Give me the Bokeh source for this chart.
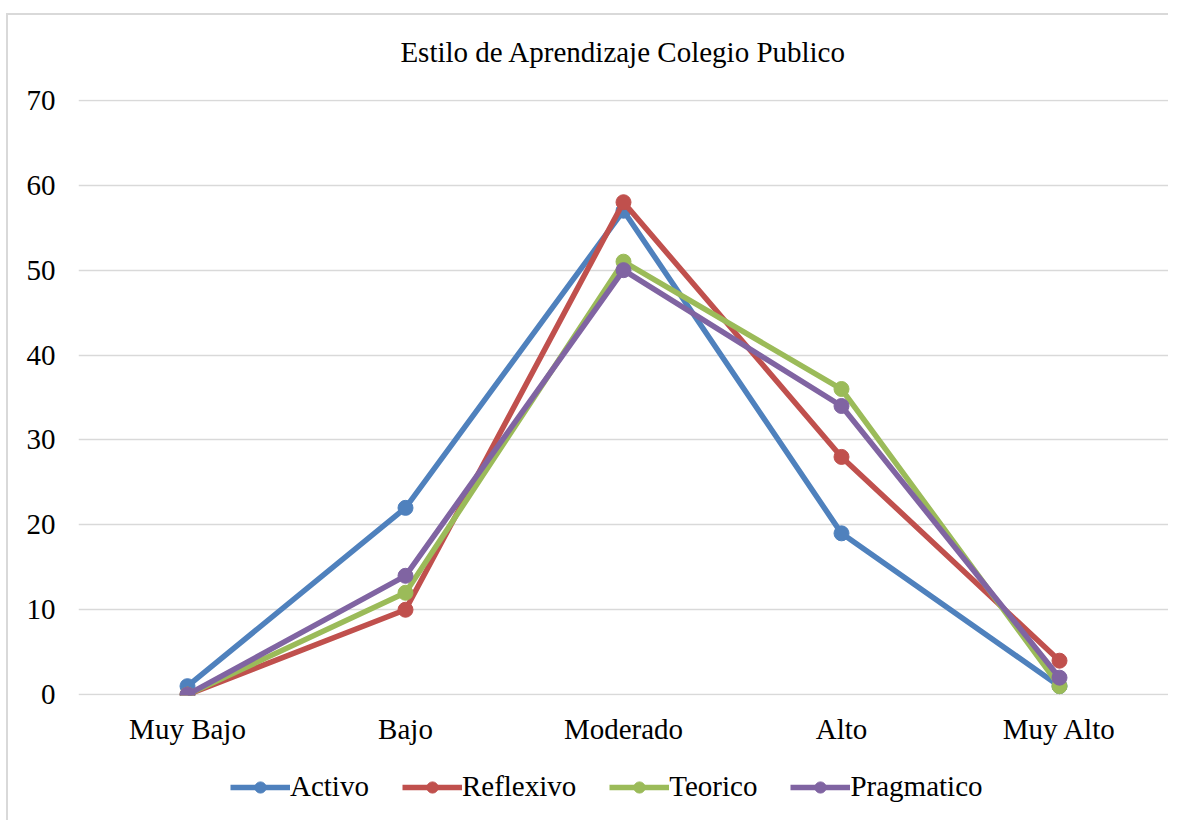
from bokeh.plotting import figure
from bokeh.models import ColumnDataSource, Legend, LegendItem, FixedTicker, Range1d
from bokeh.layouts import column
from bokeh.embed import file_html
from bokeh.resources import INLINE

categories = ["Muy Bajo", "Bajo", "Moderado", "Alto", "Muy Alto"]
activo = [1, 22, 57, 19, 1]
reflexivo = [0, 10, 58, 28, 4]
teorico = [0, 12, 51, 36, 1]
pragmatico = [0, 14, 50, 34, 2]
series_names = ["Activo", "Reflexivo", "Teorico", "Pragmatico"]
series_values = [activo, reflexivo, teorico, pragmatico]
colors = ["#4F81BD", "#C0504D", "#9BBB59", "#8064A2"]
y_ticks = [0, 10, 20, 30, 40, 50, 60, 70]

FONT = "Liberation Serif"
FS = "29px"
LW = 5.5
MS = 15

p = figure(x_range=categories,
           frame_width=1090, frame_height=596,
           min_border_left=78, min_border_top=99, min_border_right=0, min_border_bottom=65,
           output_backend="svg", toolbar_location=None,
           title="Estilo de Aprendizaje Colegio Publico")
p.x_range.range_padding = 0
p.y_range = Range1d(-0.1, 70.1)

p.title.align = "center"
p.title.text_font = FONT
p.title.text_font_size = FS
p.title.text_font_style = "normal"
p.title.text_color = "#000000"
p.title.standoff = 63

p.outline_line_color = None
p.background_fill_color = "white"
p.border_fill_alpha = 0

p.xgrid.grid_line_color = None
p.ygrid.grid_line_color = "#D9D9D9"
p.ygrid.grid_line_width = 1.5
p.yaxis.ticker = FixedTicker(ticks=y_ticks)

for ax in (p.xaxis, p.yaxis):
    ax.axis_line_color = None
    ax.major_tick_line_color = None
    ax.minor_tick_line_color = None
    ax.major_label_text_font = FONT
    ax.major_label_text_font_size = FS
    ax.major_label_text_color = "#000000"
p.yaxis.major_label_standoff = 17
p.xaxis.major_label_standoff = 11

# legend strip below the chart
lg = figure(x_range=categories, y_range=Range1d(1000, 1001),
            frame_width=1168, frame_height=60,
            min_border_left=0, min_border_right=0, min_border_top=0, min_border_bottom=0,
            output_backend="svg", toolbar_location=None)
lg.axis.visible = False
lg.grid.visible = False
lg.outline_line_color = None
lg.background_fill_alpha = 0
lg.border_fill_alpha = 0

items = []
for name, vals, col in zip(series_names, series_values, colors):
    src = ColumnDataSource(dict(x=categories, y=vals))
    p.line("x", "y", source=src, line_color=col, line_width=LW)
    p.scatter("x", "y", source=src, size=MS, fill_color=col, line_color=col)
    l2 = lg.line("x", "y", source=src, line_color=col, line_width=LW)
    c2 = lg.scatter("x", "y", source=src, size=MS, fill_color=col, line_color=col)
    items.append(LegendItem(label=name, renderers=[l2, c2]))

legend = Legend(items=items, orientation="horizontal", location=(230, 17),
                label_text_font=FONT, label_text_font_size=FS,
                label_text_color="#000000",
                glyph_width=60, glyph_height=28, label_standoff=0, spacing=33,
                padding=0, margin=0, border_line_color=None,
                background_fill_alpha=0)
lg.add_layout(legend, "center")

chart_bg = ("linear-gradient(#D9D9D9,#D9D9D9) 6px 13px / 2px 100% no-repeat, "
            "linear-gradient(#D9D9D9,#D9D9D9) 6px 13px / 100% 2px no-repeat, white")
layout = column(p, lg, spacing=0, styles={"background": chart_bg})
open("out.html", "w").write(file_html(layout, INLINE))
